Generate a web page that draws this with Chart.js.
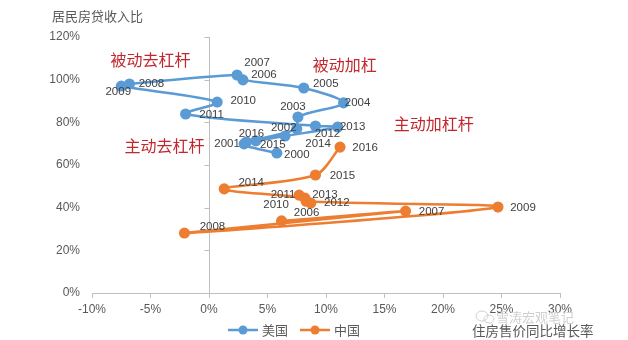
<!DOCTYPE html>
<html>
<head>
<meta charset="utf-8">
<script src="https://cdn.jsdelivr.net/npm/chart.js@4.4.1/dist/chart.umd.min.js"></script>
<style>
  html, body { margin: 0; padding: 0; background: #fff; }
  #wrap { width: 628px; height: 340px; }
</style>
</head>
<body>
<div id="wrap"><canvas id="chart" width="628" height="340"></canvas></div>
<script>
// 美国: 2000-2016, 中国: 2006-2016
const usYears = [2000, 2001, 2002, 2003, 2004, 2005, 2006, 2007, 2008, 2009, 2010, 2011, 2012, 2013, 2014, 2015, 2016];
const usPriceGrowth = [5.8, 3.0, 7.5, 7.6, 11.5, 8.1, 2.9, 2.4, -6.8, -7.5, 0.7, -2.0, 9.1, 11.0, 6.5, 4.0, 3.2];
const usDebtRatio = [65.6, 69.9, 76.9, 82.5, 89.1, 96.1, 99.9, 102.2, 98.0, 97.0, 89.5, 83.9, 78.3, 77.8, 73.6, 71.3, 70.8];

const cnYears = [2006, 2007, 2008, 2009, 2010, 2011, 2012, 2013, 2014, 2015, 2016];
const cnPriceGrowth = [6.2, 16.8, -2.1, 24.7, 8.3, 7.7, 8.7, 8.2, 1.3, 9.1, 11.2];
const cnDebtRatio = [33.8, 38.4, 28.1, 40.3, 43.0, 45.9, 42.2, 44.5, 48.8, 55.3, 68.4];

const xTicks = [-10, -5, 0, 5, 10, 15, 20, 25, 30];
const yTicks = [0, 20, 40, 60, 80, 100, 120];

const phases = ['被动去杠杆', '被动加杠', '主动加杠杆', '主动去杠杆'];
const phaseX = [-5.0, 11.6, 19.2, -3.8];
const phaseY = [109.2, 106.9, 79.2, 68.9];

// label placement (px offsets from each point)
const usLabelOffsets = [[20, 2], [-17, 0], [-13, -1], [-5, -10], [14, 0], [22, -4], [21, -5], [20, -12], [22, 0], [-3, 6], [26, -1], [26, 1], [12, 8], [15, 0], [33, 8], [17, 4], [5, -8]];
const cnLabelOffsets = [[25, -8], [26, 1], [28, -6], [25, 1], [-30, 4], [-16, 0], [26, 0], [20, -3], [27, -6], [27, 1], [25, 1]];

const BLUE = '#5b9bd5';
const ORANGE = '#ed7d31';
const CJK = '"Noto Sans CJK SC", "Noto Sans", sans-serif';

const toPoints = (xs, ys) => xs.map((x, i) => ({ x, y: ys[i] }));

Chart.defaults.font.family = '"Liberation Sans", Arial, sans-serif';
Chart.defaults.color = '#595959';

const extras = {
    id: 'extras',
    afterDatasetsDraw(chart) {
        const { ctx, scales: { x, y } } = chart;
        ctx.save();

        // year labels
        ctx.font = '11.5px "Liberation Sans", Arial, sans-serif';
        ctx.fillStyle = '#404040';
        ctx.textAlign = 'center';
        ctx.textBaseline = 'middle';
        [[usYears, usLabelOffsets], [cnYears, cnLabelOffsets]].forEach(([years, offs], di) => {
            chart.getDatasetMeta(di).data.forEach((pt, i) => {
                ctx.fillText(String(years[i]), pt.x + offs[i][0], pt.y + offs[i][1]);
            });
        });

        // phase annotations
        ctx.font = '16px ' + CJK;
        ctx.fillStyle = '#c0282e';
        phases.forEach((t, i) => {
            ctx.fillText(t, x.getPixelForValue(phaseX[i]), y.getPixelForValue(phaseY[i]));
        });
        ctx.restore();
    },
    beforeDatasetsDraw(chart) {
        const { ctx, scales: { x, y } } = chart;
        const x0 = Math.round(x.getPixelForValue(0)) + 0.5;
        ctx.save();
        ctx.strokeStyle = '#bfbfbf';
        ctx.lineWidth = 1;
        ctx.beginPath();
        ctx.moveTo(x0, y.getPixelForValue(120));
        ctx.lineTo(x0, y.getPixelForValue(0));
        yTicks.forEach(v => {
            const py = Math.round(y.getPixelForValue(v)) + 0.5;
            ctx.moveTo(x0 - 5, py);
            ctx.lineTo(x0, py);
        });
        ctx.stroke();
        ctx.restore();
    },
    afterDraw(chart) {
        const { ctx } = chart;
        ctx.save();
        ctx.textBaseline = 'middle';

        // axis titles
        ctx.font = '13px ' + CJK;
        ctx.fillStyle = '#595959';
        ctx.textAlign = 'left';
        ctx.fillText('居民房贷收入比', 52, 16);
        ctx.font = '13.5px ' + CJK;
        ctx.fillText('住房售价同比增长率', 472, 331);

        // watermark
        ctx.font = '13px ' + CJK;
        ctx.fillStyle = '#d0d0d0';
        ctx.fillText('雪涛宏观笔记', 496, 317);
        ctx.strokeStyle = '#d0d0d0';
        ctx.lineWidth = 1;
        ctx.beginPath();
        ctx.ellipse(482, 316, 6, 5, 0, 0, Math.PI * 2);
        ctx.stroke();
        ctx.beginPath();
        ctx.ellipse(489, 319, 5, 4, 0, 0, Math.PI * 2);
        ctx.stroke();

        // legend
        const items = [['美国', BLUE, 228], ['中国', ORANGE, 300]];
        ctx.font = '13px ' + CJK;
        items.forEach(([label, color, lx]) => {
            ctx.strokeStyle = color;
            ctx.lineWidth = 2.5;
            ctx.beginPath();
            ctx.moveTo(lx, 330);
            ctx.lineTo(lx + 30, 330);
            ctx.stroke();
            ctx.fillStyle = color;
            ctx.beginPath();
            ctx.arc(lx + 15, 330, 4.5, 0, Math.PI * 2);
            ctx.fill();
            ctx.fillStyle = '#595959';
            ctx.fillText(label, lx + 34, 330);
        });
        ctx.restore();
    }
};

new Chart(document.getElementById('chart'), {
    type: 'scatter',
    data: {
        datasets: [
            {
                label: '美国',
                data: toPoints(usPriceGrowth, usDebtRatio),
                borderColor: BLUE,
                backgroundColor: BLUE,
                showLine: true,
                borderWidth: 2.5,
                pointRadius: 4.3,
                pointHoverRadius: 4.3,
                tension: 0.3,
            },
            {
                label: '中国',
                data: toPoints(cnPriceGrowth, cnDebtRatio),
                borderColor: ORANGE,
                backgroundColor: ORANGE,
                showLine: true,
                borderWidth: 2.5,
                pointRadius: 4.3,
                pointHoverRadius: 4.3,
                tension: 0.3,
            },
        ],
    },
    options: {
        responsive: false,
        animation: false,
        layout: { padding: { left: 0, right: 68, top: 37, bottom: 17 } },
        plugins: { legend: { display: false }, tooltip: { enabled: false } },
        scales: {
            x: {
                type: 'linear',
                min: -10,
                max: 30,
                afterBuildTicks: (s) => { s.ticks = xTicks.map(v => ({ value: v })); },
                afterFit: (s) => { s.height = 30; },
                ticks: { callback: (v) => v + '%', font: { size: 12 }, padding: 4, maxRotation: 0 },
                grid: { drawOnChartArea: false, drawTicks: true, tickLength: 5, color: '#bfbfbf' },
                border: { display: true, color: '#bfbfbf' },
            },
            y: {
                type: 'linear',
                min: 0,
                max: 120,
                afterBuildTicks: (s) => { s.ticks = yTicks.map(v => ({ value: v })); },
                afterFit: (s) => { s.width = 92; },
                ticks: { callback: (v) => v + '%', font: { size: 12 }, padding: 12 },
                grid: { display: false, drawTicks: false },
                border: { display: false },
            },
        },
    },
    plugins: [extras],
});
</script>
</body>
</html>
